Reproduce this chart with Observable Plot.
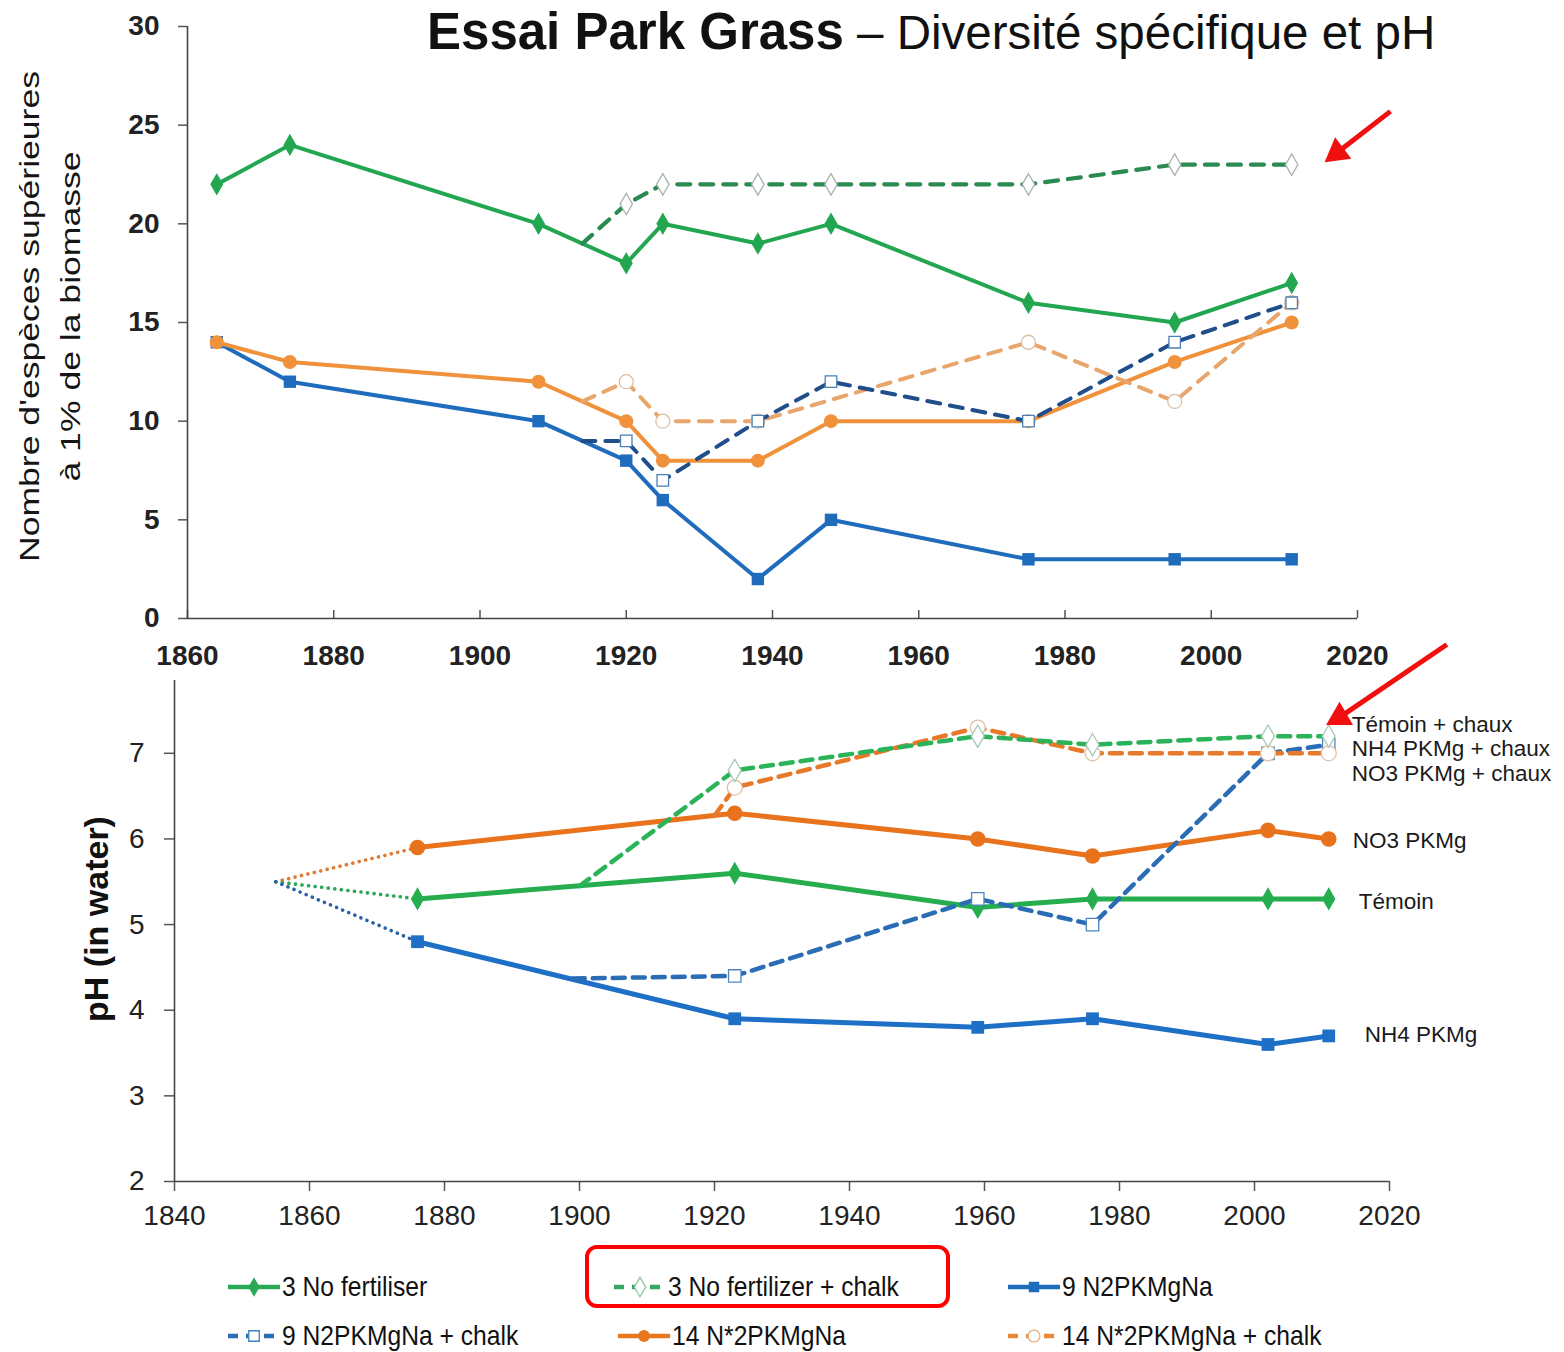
<!DOCTYPE html>
<html lang="fr">
<head>
<meta charset="utf-8">
<title>Essai Park Grass – Diversité spécifique et pH</title>
<script src="https://cdn.jsdelivr.net/npm/d3@7"></script>
<script src="https://cdn.jsdelivr.net/npm/@observablehq/plot@0.6"></script>
<style>
  html, body { margin: 0; background: #fff; }
  #page { position: relative; width: 1564px; height: 1352px; overflow: hidden;
          font-family: Arial, "Liberation Sans", sans-serif; color: #111; }
  #title { position: absolute; left: 427px; top: 2px; white-space: nowrap; line-height: 60px; }
  #title b { font-size: 51px; font-weight: bold; }
  #title span { font-size: 47.5px; }
  #top, #bottom { position: absolute; left: 0; }
  #top { top: 0; }
  #bottom { top: 640px; }
  .item { position: absolute; display: flex; align-items: center; height: 30px; }
  .item span { display: inline-block; font-size: 28px; white-space: nowrap;
               transform: scaleX(0.88); transform-origin: left center; color: #111; }
  #highlight { position: absolute; left: 585px; top: 1245px; width: 357px; height: 55px;
               border: 4px solid #f00; border-radius: 12px; }
</style>
</head>
<body>
<div id="page">
  <div id="top"></div>
  <div id="bottom"></div>
  <div id="title"><b>Essai Park Grass</b><span> – Diversité spécifique et pH</span></div>
  <div id="legend"></div>
  <div id="highlight"></div>
</div>
<script>
// ---- Species richness (number of species above 1% of biomass) ----
const diversityYears  = [1864, 1874, 1908, 1920, 1925, 1938, 1948, 1975, 1995, 2011];
const diversityNoFert = [22, 24, 20, 18, 20, 19, 20, 16, 15, 17];
const diversityN2     = [14, 12, 10, 8, 6, 2, 5, 3, 3, 3];
const diversityN2star = [14, 13, 12, 10, 8, 8, 10, 10, 13, 15];

// Limed halves: the first entry is where each one leaves its unlimed plot
const chalkYearsNoFert     = [1914, 1920, 1925, 1938, 1948, 1975, 1995, 2011];
const diversityNoFertChalk = [19, 21, 22, 22, 22, 22, 23, 23];
const chalkYearsN2         = [1914, 1920, 1925, 1938, 1948, 1975, 1995, 2011];
const diversityN2Chalk     = [9, 9, 7, 10, 12, 10, 14, 16];
const chalkYearsN2star     = [1914, 1920, 1925, 1938, 1975, 1995, 2011];
const diversityN2starChalk = [11, 12, 10, 10, 14, 11, 16];

// ---- Soil pH (in water) ----
const phOriginYear = 1855;
const phOrigin = 5.5;
const phYears   = [1876, 1923, 1959, 1976, 2002, 2011];
const phNoFert  = [5.3, 5.6, 5.2, 5.3, 5.3, 5.3];
const phNH4     = [4.8, 3.9, 3.8, 3.9, 3.6, 3.7];
const phNO3     = [5.9, 6.3, 6.0, 5.8, 6.1, 6.0];
const phChalkYearsNoFert = [1900, 1923, 1959, 1976, 2002, 2011];
const phNoFertChalk      = [5.45, 6.8, 7.2, 7.1, 7.2, 7.2];
const phChalkYearsNH4    = [1899, 1923, 1959, 1976, 2002, 2011];
const phNH4Chalk         = [4.37, 4.4, 5.3, 5.0, 7.0, 7.1];
const phChalkYearsNO3    = [1920, 1923, 1959, 1976, 2002, 2011];
const phNO3Chalk         = [6.27, 6.6, 7.3, 7.0, 7.0, 7.0];

// ---- Text ----
const seriesNames = ["3 No fertiliser", "3 No fertilizer + chalk", "9 N2PKMgNa",
                     "9 N2PKMgNa + chalk", "14 N*2PKMgNa", "14 N*2PKMgNa + chalk"];
const phLabels = ["Témoin + chaux", "NH4 PKMg + chaux", "NO3 PKMg + chaux", "NO3 PKMg", "Témoin", "NH4 PKMg"];
const diversityTicks = [0, 5, 10, 15, 20, 25, 30];
const diversityYearTicks = [1860, 1880, 1900, 1920, 1940, 1960, 1980, 2000, 2020];
const phTicks = [2, 3, 4, 5, 6, 7];
const phYearTicks = [1840, 1860, 1880, 1900, 1920, 1940, 1960, 1980, 2000, 2020];
const diversityAxisLabel = ["Nombre d'espèces supérieures", "à 1% de la biomasse"];
const phAxisLabel = "pH (in water)";

const FONT = "Arial, 'Liberation Sans', sans-serif";
const rows = (years, values) => years.map((year, i) => ({year, value: values[i], i}));

// Draws one series: a line plus its markers (a branch start gets no marker)
function seriesMarks(data, s) {
  const pts = s.branch ? data.slice(1) : data;
  return [
    Plot.line(data, {x: "year", y: "value", stroke: s.color, strokeWidth: s.width,
      strokeDasharray: s.dash, strokeLinejoin: "round"}),
    Plot.dot(pts, {x: "year", y: "value", symbol: s.symbol, r: s.r,
      fill: s.open ? "#fff" : s.color, stroke: s.open ? s.markStroke : "none", strokeWidth: 1.3})
  ];
}

// Stretch rotated label text along its own direction
function stretchText(svg, startsWith, k) {
  d3.select(svg).selectAll("text").filter(function () {
    return this.textContent.startsWith(startsWith);
  }).each(function () {
    const t = this.getAttribute("transform") || "";
    this.setAttribute("transform", t + ` scale(${k},1)`);
  });
}

// ================= Top chart: species richness =================
const topStyle = {
  noFert:      {color: "#23a650", width: 4, symbol: "diamond", r: 6.8},
  noFertChalk: {color: "#2b8a52", width: 4.2, dash: "13,10", symbol: "diamond", r: 6.5, open: true, markStroke: "#a9b5ae", branch: true},
  n2:          {color: "#1f6cbd", width: 4, symbol: "square", r: 7},
  n2Chalk:     {color: "#1f4e8a", width: 4, dash: "13,10", symbol: "square", r: 6.5, open: true, markStroke: "#4b7fb5", branch: true},
  n2star:      {color: "#f0913c", width: 4, symbol: "circle", r: 7},
  n2starChalk: {color: "#e9a66c", width: 4, dash: "13,10", symbol: "circle", r: 7, open: true, markStroke: "#dcbfa2", branch: true}
};

const chalkLastYear = chalkYearsNoFert[chalkYearsNoFert.length - 1];
const chalkLastValue = diversityNoFertChalk[diversityNoFertChalk.length - 1];
const topArrow = [{x1: chalkLastYear + 13.5, y1: chalkLastValue + 2.7, x2: chalkLastYear + 6.2, y2: chalkLastValue + 0.6}];

const topPlot = Plot.plot({
  width: 1564, height: 680,
  marginLeft: 187, marginRight: 207, marginTop: 26, marginBottom: 62,
  x: {domain: [1860, 2020]},
  y: {domain: [0, 30]},
  style: {background: "transparent", overflow: "visible", fontFamily: FONT, color: "#222"},
  marks: [
    Plot.axisY({ticks: diversityTicks, tickSize: 9, tickPadding: 19, fontSize: 28, fontWeight: "bold", label: null, stroke: "#555", strokeWidth: 1.5}),
    Plot.axisX({ticks: diversityYearTicks, tickFormat: "d", tickSize: 0, tickPadding: 27, fontSize: 28, fontWeight: "bold", label: null}),
    Plot.tickX(diversityYearTicks, {insetTop: 584, stroke: "#555", strokeWidth: 1.5}),
    Plot.ruleX([1860], {stroke: "#444", strokeWidth: 1.6}),
    Plot.ruleY([0], {stroke: "#444", strokeWidth: 1.6}),
    Plot.text([diversityAxisLabel[0]], {frameAnchor: "left", textAnchor: "middle", lineAnchor: "middle", rotate: -90, dx: -157, dy: -6, fontSize: 28, fill: "#151515"}),
    Plot.text([diversityAxisLabel[1]], {frameAnchor: "left", textAnchor: "middle", lineAnchor: "middle", rotate: -90, dx: -116, dy: -6, fontSize: 28, fill: "#151515"}),
    ...seriesMarks(rows(diversityYears, diversityNoFert), topStyle.noFert),
    ...seriesMarks(rows(diversityYears, diversityN2), topStyle.n2),
    ...seriesMarks(rows(diversityYears, diversityN2star), topStyle.n2star),
    ...seriesMarks(rows(chalkYearsN2star, diversityN2starChalk), topStyle.n2starChalk),
    ...seriesMarks(rows(chalkYearsN2, diversityN2Chalk), topStyle.n2Chalk),
    ...seriesMarks(rows(chalkYearsNoFert, diversityNoFertChalk), topStyle.noFertChalk),
    Plot.link(topArrow, {x1: "x1", y1: "y1", x2: "x2", y2: "y2", stroke: "#f01010", strokeWidth: 5}),
    Plot.dot(topArrow, {x: "x2", y: "y2", symbol: "triangle", r: 10, fill: "#f01010", rotate: 233})
  ]
});
document.getElementById("top").append(topPlot);
stretchText(topPlot, "Nombre", 1.27);
stretchText(topPlot, "à 1%", 1.27);

// ================= Bottom chart: soil pH =================
const phStyle = {
  noFert:      {color: "#25ad4e", width: 5, symbol: "diamond", r: 7},
  noFertChalk: {color: "#2bb35a", width: 4.5, dash: "12,8", symbol: "diamond", r: 6.8, open: true, markStroke: "#a8c9b4", branch: true},
  nh4:         {color: "#1e6fc6", width: 5, symbol: "square", r: 7.2},
  nh4Chalk:    {color: "#2a6db5", width: 4.5, dash: "12,8", symbol: "square", r: 7, open: true, markStroke: "#4d86c2", branch: true},
  no3:         {color: "#e8731c", width: 5, symbol: "circle", r: 7.8},
  no3Chalk:    {color: "#e8782a", width: 4.5, dash: "12,8", symbol: "circle", r: 7.5, open: true, markStroke: "#dfc0a6", branch: true}
};

// Dotted lead-in from the common starting pH to each plot's first measurement
const leadIn = (values, color) => Plot.line(
  [{year: phOriginYear, value: phOrigin}, {year: phYears[0], value: values[0]}],
  {x: "year", y: "value", stroke: color, strokeWidth: 3.6, strokeDasharray: "0.1,6.5", strokeLinecap: "round"});

const last = a => a[a.length - 1];
const labelEnds = [
  {text: phLabels[0], year: last(phChalkYearsNoFert), value: last(phNoFertChalk)},
  {text: phLabels[1], year: last(phChalkYearsNH4), value: last(phNH4Chalk)},
  {text: phLabels[2], year: last(phChalkYearsNO3), value: last(phNO3Chalk)},
  {text: phLabels[3], year: last(phYears), value: last(phNO3)},
  {text: phLabels[4], year: last(phYears), value: last(phNoFert)},
  {text: phLabels[5], year: last(phYears), value: last(phNH4)}
];
const labelOffsets = [{dx: 23, dy: -11}, {dx: 23, dy: 4}, {dx: 23, dy: 21}, {dx: 24, dy: 2}, {dx: 30, dy: 3}, {dx: 36, dy: -1}];

const phArrow = [{x1: last(phChalkYearsNoFert) + 17.5, y1: last(phNoFertChalk) + 1.07,
                  x2: last(phChalkYearsNoFert) + 1.6, y2: last(phNoFertChalk) + 0.22}];

const bottomPlot = Plot.plot({
  width: 1564, height: 601,
  marginLeft: 174, marginRight: 175, marginTop: 40, marginBottom: 60,
  x: {domain: [1840, 2020]},
  y: {domain: [2, 7.85]},
  style: {background: "transparent", overflow: "visible", fontFamily: FONT, color: "#222"},
  marks: [
    Plot.axisY({ticks: phTicks, tickFormat: "d", tickSize: 10, tickPadding: 20, fontSize: 28, label: null, stroke: "#555", strokeWidth: 1.5}),
    Plot.axisX({ticks: phYearTicks, tickFormat: "d", tickSize: 10, tickPadding: 14, fontSize: 28, label: null, stroke: "#555", strokeWidth: 1.5}),
    Plot.ruleX([1840], {stroke: "#444", strokeWidth: 1.6}),
    Plot.ruleY([2], {stroke: "#444", strokeWidth: 1.6}),
    Plot.text([phAxisLabel], {frameAnchor: "left", textAnchor: "middle", lineAnchor: "middle", rotate: -90, dx: -77, dy: -12, fontSize: 34, fontWeight: "bold", fill: "#111"}),
    leadIn(phNO3, "#e07a30"),
    leadIn(phNoFert, "#2aa455"),
    leadIn(phNH4, "#2a62a8"),
    ...seriesMarks(rows(phYears, phNO3), phStyle.no3),
    ...seriesMarks(rows(phYears, phNoFert), phStyle.noFert),
    ...seriesMarks(rows(phYears, phNH4), phStyle.nh4),
    ...seriesMarks(rows(phChalkYearsNH4, phNH4Chalk), phStyle.nh4Chalk),
    ...seriesMarks(rows(phChalkYearsNO3, phNO3Chalk), phStyle.no3Chalk),
    ...seriesMarks(rows(phChalkYearsNoFert, phNoFertChalk), phStyle.noFertChalk),
    ...labelEnds.map((d, k) => Plot.text([d], {x: "year", y: "value", text: "text", textAnchor: "start",
      dx: labelOffsets[k].dx, dy: labelOffsets[k].dy, fontSize: 22.5, fill: "#1a1a1a"})),
    Plot.link(phArrow, {x1: "x1", y1: "y1", x2: "x2", y2: "y2", stroke: "#f01010", strokeWidth: 5}),
    Plot.dot(phArrow, {x: "x2", y: "y2", symbol: "triangle", r: 10, fill: "#f01010", rotate: 240})
  ]
});
document.getElementById("bottom").append(bottomPlot);

// ================= Legend =================
const legendStyles = [
  {color: "#2aa955", symbol: d3.symbolDiamond},
  {color: "#36a862", symbol: d3.symbolDiamond, dashed: true, open: true, markStroke: "#8fc4a3"},
  {color: "#1f6cbd", symbol: d3.symbolSquare},
  {color: "#2a6db5", symbol: d3.symbolSquare, dashed: true, open: true, markStroke: "#3f7fc0"},
  {color: "#e8771f", symbol: d3.symbolCircle},
  {color: "#e8883a", symbol: d3.symbolCircle, dashed: true, open: true, markStroke: "#e3b088"}
];
const legendSlots = [
  {left: 226, top: 1287}, {left: 612, top: 1287}, {left: 1006, top: 1287},
  {left: 226, top: 1336}, {left: 616, top: 1336}, {left: 1006, top: 1336}
];
const legend = d3.select("#legend");
seriesNames.forEach((name, k) => {
  const s = legendStyles[k], slot = legendSlots[k];
  const item = legend.append("div").attr("class", "item")
    .style("left", slot.left + "px").style("top", (slot.top - 15) + "px");
  const sw = item.append("svg").attr("width", 56).attr("height", 30);
  sw.append("line").attr("x1", 2).attr("x2", 54).attr("y1", 15).attr("y2", 15)
    .attr("stroke", s.color).attr("stroke-width", 4.5)
    .attr("stroke-dasharray", s.dashed ? "10,8" : null);
  sw.append("path").attr("d", d3.symbol(s.symbol, 110)())
    .attr("transform", "translate(28,15)")
    .attr("fill", s.open ? "#fff" : s.color)
    .attr("stroke", s.open ? s.markStroke : "none").attr("stroke-width", 1.3);
  item.append("span").text(name);
});
</script>
</body>
</html>
